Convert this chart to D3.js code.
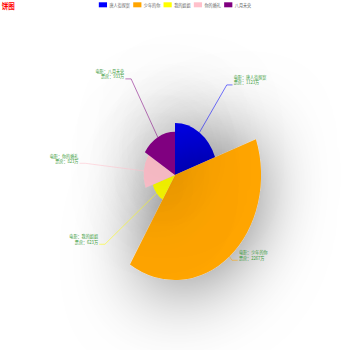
<!DOCTYPE html>
<html>
<head>
<meta charset="utf-8">
<script src="https://cdn.jsdelivr.net/npm/d3@7"></script>
<style>
  html, body { margin: 0; padding: 0; background: #fff; }
  svg { display: block; }
  text { font-family: "Noto Sans CJK SC", sans-serif; }
</style>
</head>
<body>
<script>
// chart data
const movies = ['唐人街探案', '少年的你', '我的姐姐', '你的婚礼', '八月未央'];
const boxOffice = [1123, 2267, 623, 823, 933];
const colors = ['#0000ff', '#ffa500', '#ffff00', '#ffc0cb', '#800080'];
const titleText = '饼图';

// the reference is drawn wide then squashed into 350x350
const [W, H] = [427, 350];
const R = 105, LABEL_R = 110, LEN2 = 7;
const FONT = 5;

const data = movies.map((m, i) => ({ name: m, value: boxOffice[i], color: colors[i] }));

const svg = d3.select('body').append('svg')
    .attr('width', 350).attr('height', 350)
    .attr('viewBox', `0 0 ${W} ${H}`)
    .attr('preserveAspectRatio', 'none');

const defs = svg.append('defs');
const f = defs.append('filter').attr('id', 'shadow')
    .attr('filterUnits', 'userSpaceOnUse')
    .attr('x', -W).attr('y', -H).attr('width', W * 2).attr('height', H * 2);
f.append('feGaussianBlur').attr('in', 'SourceAlpha').attr('stdDeviation', 42).attr('result', 'blur');
f.append('feFlood').attr('flood-color', '#000').attr('flood-opacity', 0.6);
f.append('feComposite').attr('in2', 'blur').attr('operator', 'in').attr('result', 'sh');
const merge = f.append('feMerge');
merge.append('feMergeNode').attr('in', 'sh');
merge.append('feMergeNode').attr('in', 'SourceGraphic');

// title
svg.append('text')
    .attr('x', 2).attr('y', 8.8)
    .style('font-size', '8px')
    .style('font-weight', 'bold')
    .attr('fill', '#ff0000')
    .text(titleText);

// legend
const legend = svg.append('g');
let lx = 0;
data.forEach(d => {
    const g = legend.append('g').attr('transform', `translate(${lx},0)`);
    g.append('rect').attr('x', 0).attr('y', 2.3).attr('width', 10).attr('height', 5).attr('fill', d.color);
    const t = g.append('text').attr('x', 13).attr('y', 6.6)
        .style('font-size', FONT + 'px').attr('fill', '#666').text(d.name);
    lx += 13 + t.node().getComputedTextLength() + 4;
});
legend.attr('transform', `translate(${(W - (lx - 4)) / 2},0)`);

// rose pie
const pie = d3.pie().sort(null).value(d => d.value);
const rScale = d3.scaleLinear().domain([0, d3.max(boxOffice)]).range([0, R]);
const arc = d3.arc().innerRadius(0).outerRadius(d => rScale(d.data.value));

const chart = svg.append('g').attr('transform', `translate(${W / 2},${H / 2})`);
const arcs = pie(data);

chart.selectAll('path.slice')
    .data(arcs)
    .enter()
    .append('path')
    .attr('class', 'slice')
    .attr('d', arc)
    .attr('fill', d => d.data.color)
    .attr('filter', 'url(#shadow)');

// labels with leader lines
arcs.forEach(d => {
    const mid = (d.startAngle + d.endAngle) / 2;
    const r0 = rScale(d.data.value);
    const side = Math.sin(mid) >= 0 ? 1 : -1;
    const p0 = [Math.sin(mid) * r0, -Math.cos(mid) * r0];
    const p1 = [Math.sin(mid) * LABEL_R, -Math.cos(mid) * LABEL_R];
    const p2 = [p1[0] + side * LEN2, p1[1]];
    chart.append('path')
        .attr('d', d3.line()([p0, p1, p2]))
        .attr('fill', 'none')
        .attr('stroke', d.data.color)
        .attr('stroke-width', 0.6);
    const t = chart.append('text')
        .attr('text-anchor', side > 0 ? 'start' : 'end')
        .style('font-size', FONT + 'px')
        .attr('fill', '#3c9c3c');
    t.append('tspan').attr('x', p2[0] + side * 1.5).attr('y', p1[1] - 5.8).text('电影：' + d.data.name);
    t.append('tspan').attr('x', p2[0] + side * 1.5).attr('y', p1[1] - 0.5).text('票房：' + d.data.value + '万');
});
</script>
</body>
</html>
